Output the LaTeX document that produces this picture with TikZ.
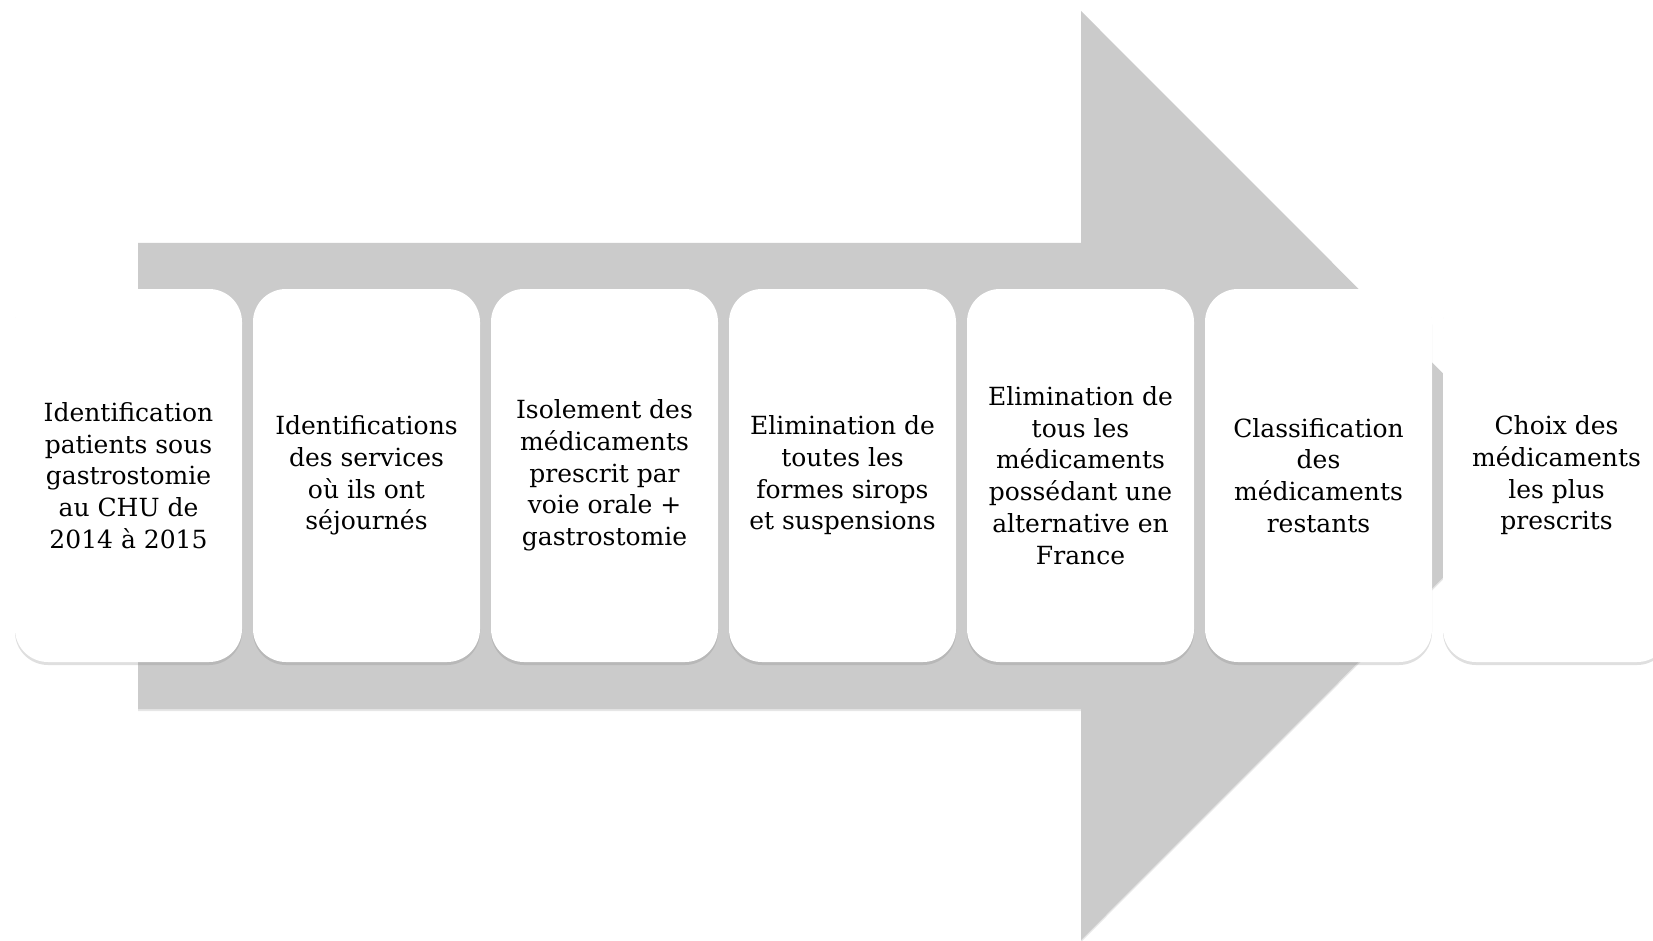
\documentclass[tikz,border=0pt]{standalone}
\usepackage{fontspec}
\setmainfont{DejaVu Serif}
\usetikzlibrary{shadows}
\definecolor{arrowgray}{HTML}{CBCBCB}
\tikzset{
  stepbox/.style={draw=none, fill=white, rounded corners=33pt,
    minimum width=227pt, minimum height=373pt, inner sep=4pt,
    align=center, text=black, font=\fontsize{25}{31.7}\selectfont,
    drop shadow={opacity=0.25, shadow xshift=0pt, shadow yshift=-3pt}},
  bigarrow/.style={fill=arrowgray, draw=none,
    drop shadow={opacity=0.2, shadow xshift=0pt, shadow yshift=-2pt}}
}
\begin{document}
\begin{tikzpicture}[x=1pt,y=-1pt]
\useasboundingbox (0,0) rectangle (1653,941);
\clip (0,0) rectangle (1653,941);
\path[bigarrow] (138,243) -- (1081,243) -- (1081,11) -- (1545,475.5)
  -- (1081,940) -- (1081,709) -- (138,709) -- cycle;
\node[stepbox] (s1) at (128.5,475.5) {Identification\\patients sous\\gastrostomie\\au CHU de\\2014 à 2015};
\node[stepbox] (s2) at (366.5,475.5) {Identifications\\des services\\où ils ont\\séjournés};
\node[stepbox] (s3) at (604.5,475.5) {Isolement des\\médicaments\\prescrit par\\voie orale +\\gastrostomie};
\node[stepbox] (s4) at (842.5,475.5) {Elimination de\\toutes les\\formes sirops\\et suspensions};
\node[stepbox] (s5) at (1080.5,475.5) {Elimination de\\tous les\\médicaments\\possédant une\\alternative en\\France};
\node[stepbox] (s6) at (1318.5,475.5) {Classification\\des\\médicaments\\restants};
\node[stepbox] (s7) at (1556.5,475.5) {Choix des\\médicaments\\les plus\\prescrits};
\end{tikzpicture}
\end{document}
